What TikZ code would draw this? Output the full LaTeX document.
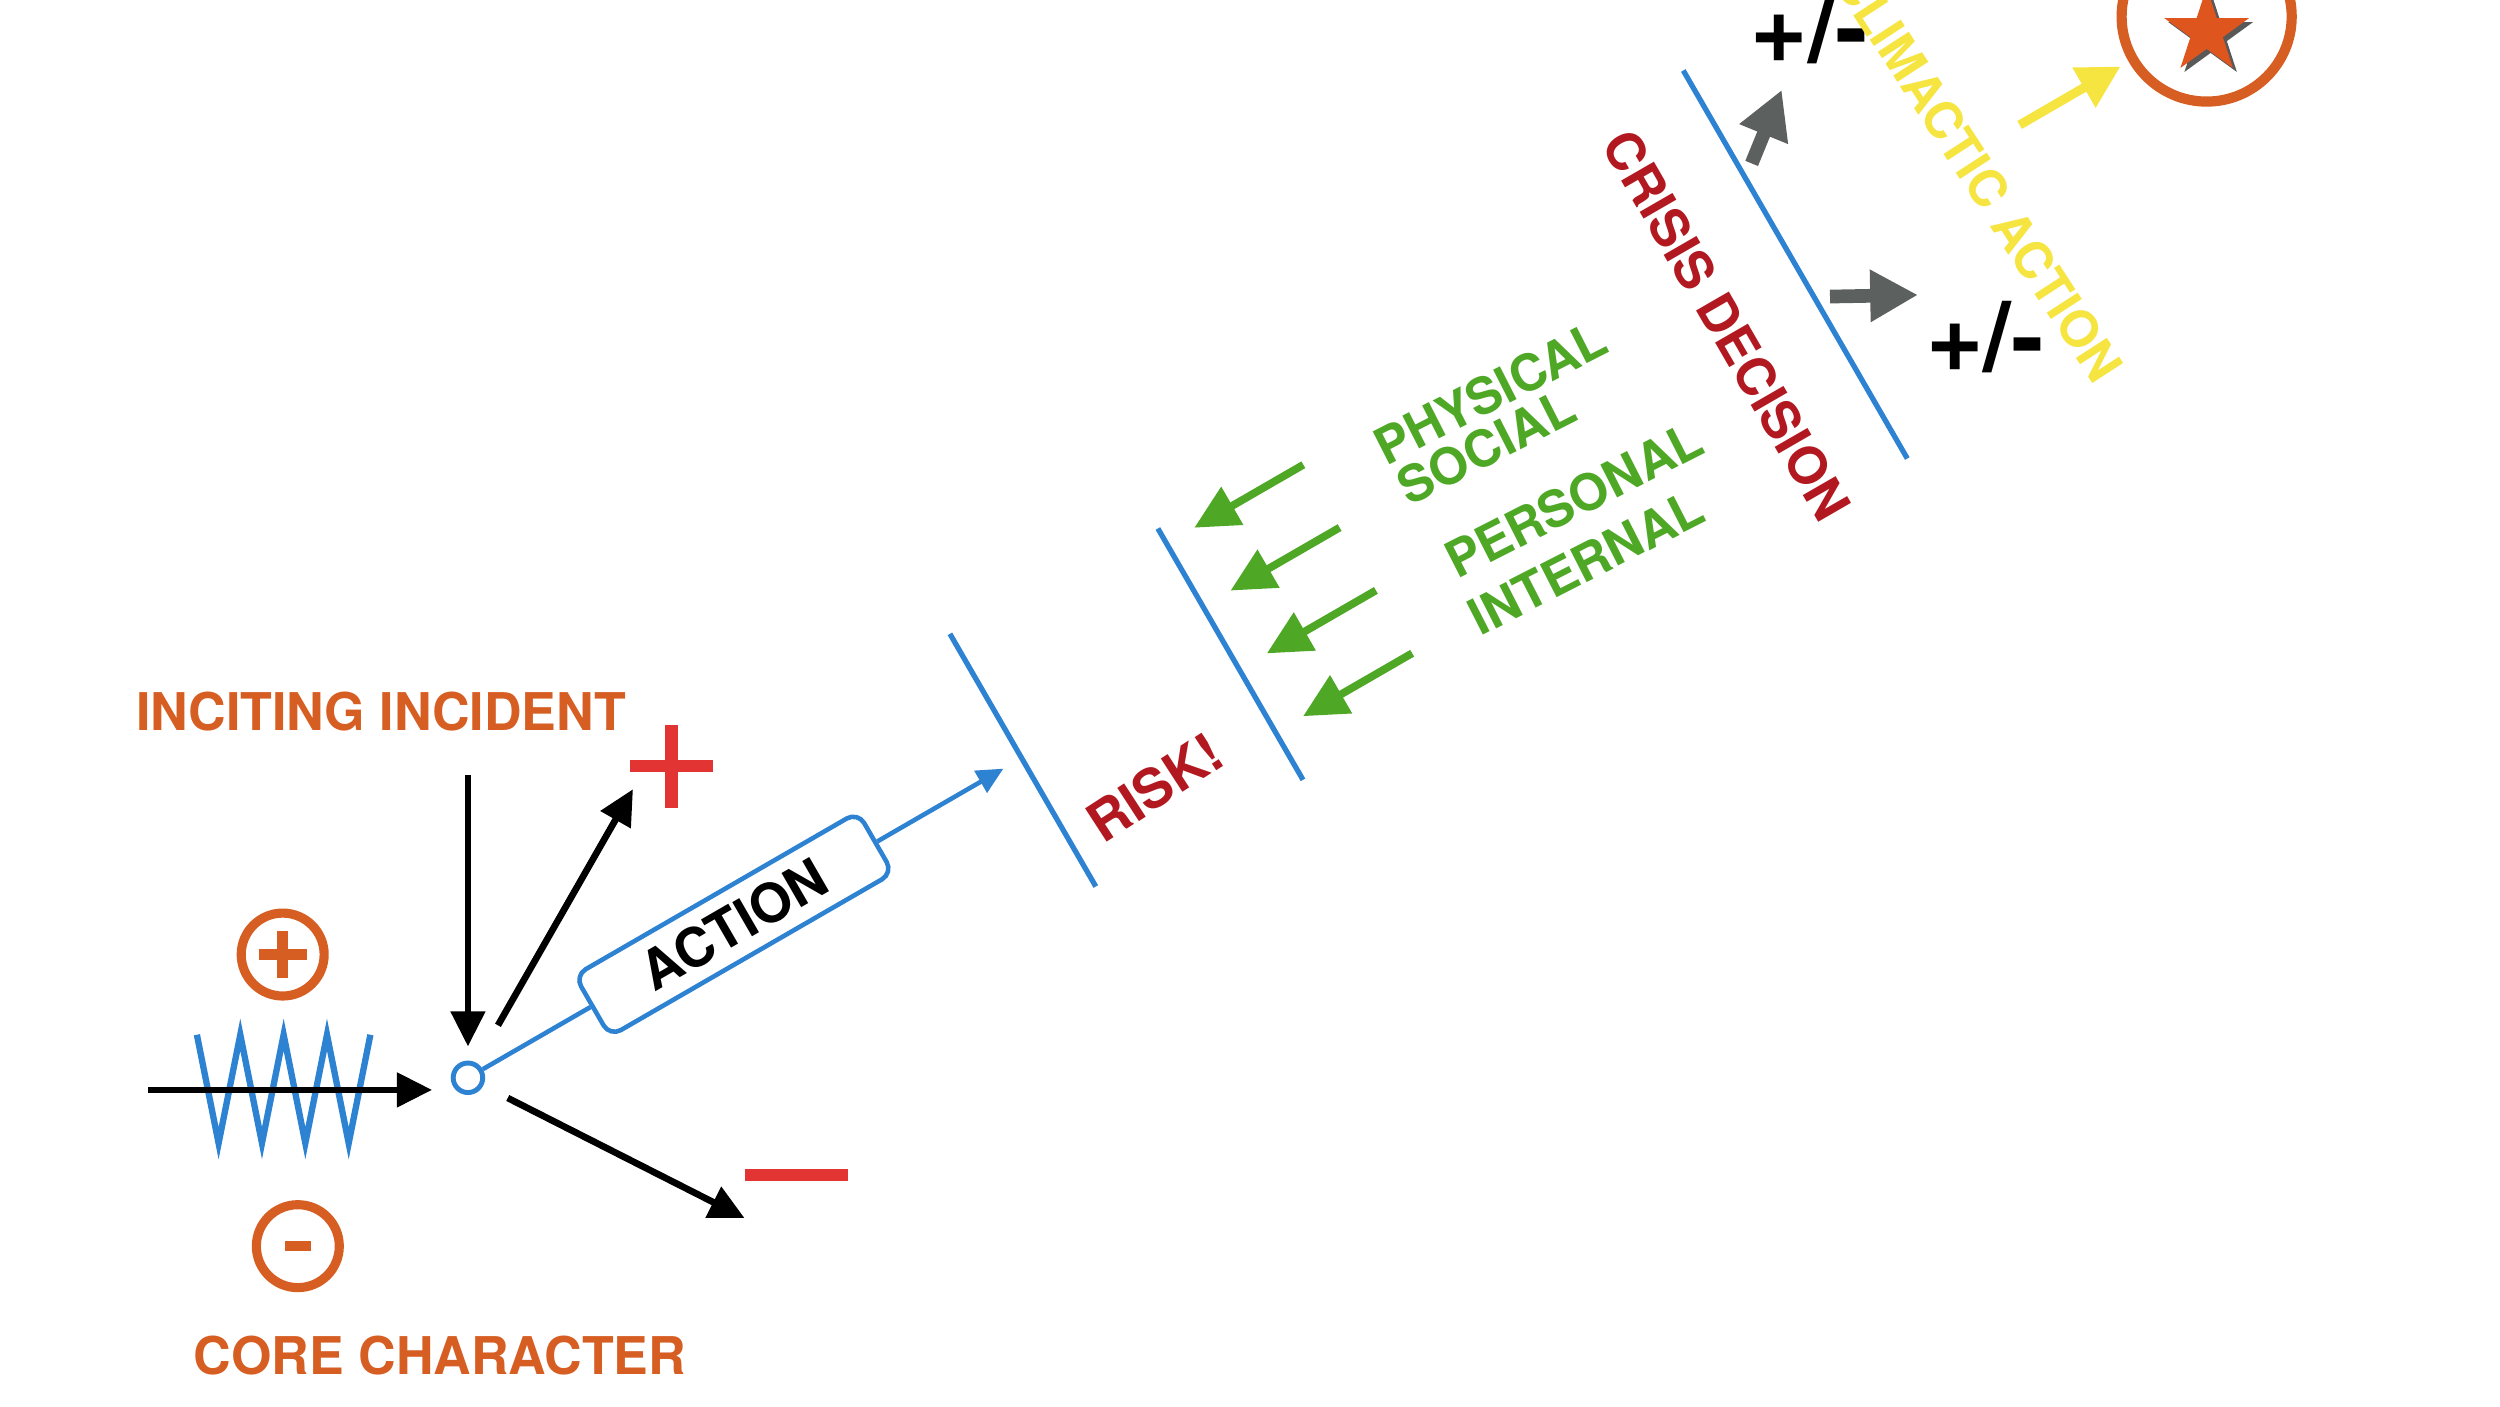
\documentclass[tikz,border=0pt]{standalone}
\usepackage{fontspec}
\setmainfont{TeX Gyre Heros}
\usetikzlibrary{arrows.meta,shapes.geometric}

\definecolor{storyblue}{RGB}{45,130,210}
\definecolor{storyorange}{RGB}{214,94,34}
\definecolor{storyred}{RGB}{226,52,50}
\definecolor{crisisred}{RGB}{178,24,32}
\definecolor{forcegreen}{RGB}{78,168,38}
\definecolor{forkgray}{RGB}{92,97,95}
\definecolor{climaxyellow}{RGB}{246,228,64}
\definecolor{starorange}{RGB}{222,85,30}

\begin{document}
\begin{tikzpicture}[x=0.4537pt,y=0.4537pt,
    font=\bfseries\fontsize{14.8}{16}\selectfont,
    blk/.style={line width=1.9pt,-{Triangle[length=10pt,width=9.5pt]}},
    link/.style={draw=storyblue,line width=1.3pt},
    wall/.style={storyblue,line width=1.5pt},
    push/.style={forcegreen,line width=2.2pt,-{Triangle[length=12.5pt,width=12pt]}},
    fork/.style={forkgray,line width=3.9pt,-{Triangle[length=13.6pt,width=14pt]}},
    climax/.style={climaxyellow,line width=2.6pt,-{Triangle[length=12pt,width=12.5pt]}},
    sign/.style={circle,draw=storyorange,line width=2.6pt,minimum size=23.6pt,inner sep=0pt},
    force/.style={forcegreen,anchor=base west,inner sep=0pt,rotate=-3,font=\bfseries\fontsize{14.4}{16}\selectfont},
    pm/.style={anchor=base west,inner sep=0pt,font=\bfseries\fontsize{28}{30}\selectfont},
    starmark/.style={star,star points=5,star point ratio=2.618,minimum size=25.4pt,inner sep=0pt}]
  \useasboundingbox (0,0) rectangle (1568,882);
  \clip (0,0) rectangle (1568,882);

  \draw[storyblue,line width=1.8pt] (123.5,233) \foreach \i in {1,...,4}{ -- ++(13.6,-68) -- ++(13.6,68)};
  \node[sign] (pos) at (177.3,283.3) {};
  \draw[storyorange,line width=3pt] (pos.center) ++(-15,0) -- ++(30,0) (pos.center) ++(0,-15) -- ++(0,30);
  \node[sign] (neg) at (186.8,100.4) {};
  \draw[storyorange,line width=3pt] (neg.center) ++(-8,0) -- ++(16,0);

  \node[storyorange] (incite) at (239,435.5) {INCITING INCIDENT};
  \node[storyorange] (core) at (276,32) {CORE CHARACTER};

  \node[circle,draw=storyblue,line width=1.4pt,minimum size=8.4pt,inner sep=0pt] (hub) at (293.5,206) {};
  \coordinate (corein) at (93,198.4);
  \coordinate (uptip) at (397,387);
  \coordinate (downtip) at (467,118);
  \coordinate (plusmark) at (421,401.5);
  \coordinate (minusmark) at (499.5,145);

  \draw[blk,shorten >=10.2pt] (corein) -- (corein -| hub);
  \draw[blk,shorten <=8.9pt,shorten >=4pt] (incite.south -| hub) -- (hub);
  \draw[blk,shorten <=12.3pt] (hub) -- (uptip);
  \draw[blk,shorten <=7.8pt] (hub) -- (downtip);
  \draw[storyred,line width=3.6pt] (plusmark) ++(-26,0) -- ++(52,0) (plusmark) ++(0,-26) -- ++(0,52);
  \draw[storyred,line width=3.6pt] (minusmark) ++(-32.5,0) -- ++(65,0);

  \begin{scope}[shift={(293.5,206)},rotate=30,transform shape]
    \node[draw=storyblue,line width=1.3pt,rounded corners=3.6pt,minimum width=93pt,minimum height=20pt,inner sep=0pt,font=\bfseries\fontsize{15.4}{17}\selectfont] (action) at (192.6,0) {ACTION};
    \draw[link] (hub) -- (action);
    \coordinate (gate1) at (401,0);
    \draw[link,-{Triangle[length=7.5pt,width=7pt]},shorten >=6pt] (action) -- (gate1);

    \draw[wall] (401,-93) -- (401,90);
    \draw[wall] (547,-100) -- (547,82);
    \draw[wall] (976,-115) -- (976,166);

    \node[crisisred,rotate=3,font=\bfseries\fontsize{15.5}{17}\selectfont] (risk) at (464,-57.6) {RISK!};

    \foreach \m [count=\i] in {71,25.5,-20,-65.5}{
      \coordinate (src\i) at (646,\m);
      \coordinate (dst\i) at (567,\m);
      \draw[push] (src\i) -- (dst\i);
    }
    \node[force] (physical) at (690,44.3) {PHYSICAL};
    \node[force] (social) at (690,15) {SOCIAL};
    \node[force] (personal) at (693,-39.7) {PERSONAL};
    \node[force] (internal) at (688,-77.8) {INTERNAL};

    \node[crisisred,rotate=-90] (crisis) at (919.7,14) {CRISIS DECISION};

    \coordinate (forkup) at (984,94.1);
    \coordinate (forkupend) at (1023.4,124.6);
    \coordinate (forkdown) at (984.8,-2.8);
    \coordinate (forkdownend) at (1033.1,-29.5);
    \draw[fork] (forkup) -- (forkupend);
    \draw[fork] (forkdown) -- (forkdownend);
  \end{scope}

  \node[pm] (upper) at (1097.6,842.5) {+/-};
  \node[pm] (lower) at (1207.8,649) {+/-};

  \node[circle,draw=storyorange,line width=2.9pt,minimum size=48.4pt,inner sep=0pt] (goal) at (1384,871.6) {};
  \node[starmark,fill=black!65] (shade) at (1386.5,859.5) {};
  \node[starmark,fill=starorange] (prize) at (1384,862) {};
  \coordinate (climaxtail) at (1266.7,803.6);
  \draw[climax,shorten >=2.7pt] (climaxtail) -- (goal);
  \node[climaxyellow,rotate=-57,font=\bfseries\fontsize{14.4}{16}\selectfont] (climactic) at (1241,773) {CLIMACTIC ACTION};
\end{tikzpicture}
\end{document}
